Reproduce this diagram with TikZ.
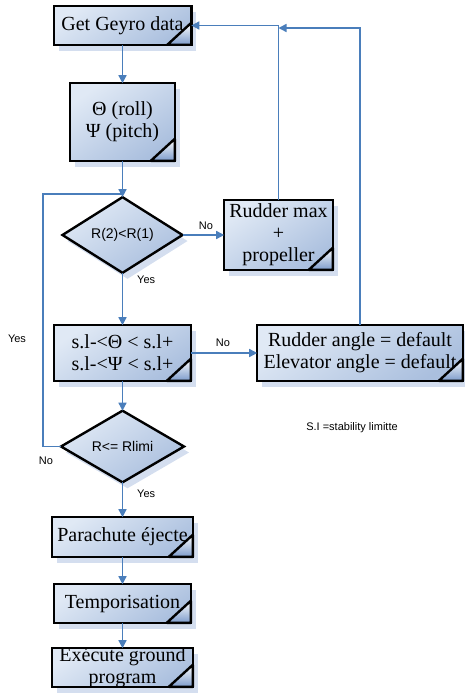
\documentclass[tikz,border=0pt]{standalone}
\usepackage{fontspec}
\setmainfont{Liberation Serif}
\newfontfamily\arialf{Liberation Sans}
\usetikzlibrary{shapes.geometric,arrows.meta,shadows}
\definecolor{lineblue}{HTML}{4A7EBB}
\definecolor{fillA}{HTML}{E0E9F5}
\definecolor{fillB}{HTML}{AABFDE}
\definecolor{shadowc}{HTML}{C9D6EB}
\definecolor{foldc}{HTML}{7C9BCB}
\newcommand\foldcorner[1]{%
  \fill[top color=white, bottom color=foldc]
    ([xshift=-24pt]#1.south east) -- (#1.south east) -- ([yshift=22pt]#1.south east) -- cycle;
  \draw[line width=2.4pt, line join=round]
    ([xshift=-24pt]#1.south east) -- (#1.south east) -- ([yshift=22pt]#1.south east) -- cycle;}
\tikzset{
  box/.style={rectangle, draw=black, line width=2.4pt, inner sep=0pt, outer sep=0pt,
    top color=fillA, bottom color=fillB, shading angle=35,
    drop shadow={shadow xshift=5pt, shadow yshift=-6pt, fill=shadowc, opacity=0.8},
    font=\fontsize{20}{22}\selectfont, align=center},
  dia/.style={diamond, draw=black, line width=2.4pt, inner sep=0pt, outer sep=0pt,
    top color=fillA, bottom color=fillB, shading angle=35,
    drop shadow={shadow xshift=5pt, shadow yshift=-6pt, fill=shadowc, opacity=0.8},
    font=\arialf\fontsize{14}{16}\selectfont},
  conn/.style={draw=lineblue, line width=1.5pt, -{Triangle[length=8pt,width=8pt]}},
  plain/.style={draw=lineblue, line width=1.5pt},
  lbl/.style={font=\arialf\fontsize{11}{13}\selectfont, inner sep=0pt}
}
\begin{document}
\begin{tikzpicture}[x=1pt,y=-1pt]
\useasboundingbox (0,0) rectangle (465,693);
% boxes
\node[box, minimum width=137.6pt, minimum height=38.6pt] (geyro) at (122.5,25.5) {Get Geyro data};
\node[box, minimum width=104.6pt, minimum height=77.6pt] (theta) at (122.5,122) {Θ (roll)\\Ψ (pitch)};
\node[dia, minimum width=120pt, minimum height=53pt] (d1) at (122.5,235) {R(2)<R(1)};
\node[box, minimum width=108.6pt, minimum height=69.6pt] (rmax) at (278.5,235) {Rudder max\\+\\propeller};
\node[box, minimum width=136.6pt, minimum height=55.6pt] (stab) at (122.5,353) {s.l-<Θ < s.l+\\s.l-<Ψ < s.l+};
\node[box, minimum width=205.6pt, minimum height=55.6pt] (rangle) at (360,353) {Rudder angle = default\\Elevator angle = default};
\node[dia, minimum width=123pt, minimum height=54pt] (d2) at (122.5,446.5) {R<= Rlimi};
\node[box, minimum width=140.6pt, minimum height=39.6pt] (para) at (122.5,537) {Parachute éjecte};
\node[box, minimum width=136.6pt, minimum height=38.6pt] (temp) at (122.5,603.5) {Temporisation};
\node[box, minimum width=140.6pt, minimum height=38.6pt,
  label={[font=\fontsize{20}{22}\selectfont, align=center, inner sep=0pt]center:Exécute ground\\program}] (exec) at (122.5,667.5) {};
\foreach \n in {geyro,theta,rmax,stab,rangle,para,temp,exec} {\foldcorner{\n}}
% helper coordinates
\coordinate (j1) at (122.5,194);
\coordinate (lp1) at (43,446.5);
\coordinate (lp2) at (43,194);
\coordinate (t2) at (360,28);
% connectors
\draw[conn] (geyro) -- (theta);
\draw[conn] (theta) -- (d1);
\draw[plain] (d2.west) -- (lp1) -- (lp2) -- (j1);
\draw[conn] (d1) -- (rmax);
\draw[conn] (rmax.north) |- (geyro.east);
\draw[conn] (rangle.north) -- (t2) -- (rmax.north |- t2);
\draw[conn] (d1) -- (stab);
\draw[conn] (stab) -- (rangle);
\draw[conn] (stab) -- (d2);
\draw[conn] (d2) -- (para);
\draw[conn] (para) -- (temp);
\draw[conn] (temp) -- (exec);
% labels
\node[lbl] (lno1) at (206,226) {No};
\node[lbl, anchor=west] (lyes1) at (137,280) {Yes};
\node[lbl] (lno2) at (223,343) {No};
\node[lbl] (lyes2) at (17,339) {Yes};
\node[lbl] (lno3) at (46,461) {No};
\node[lbl, anchor=west] (lyes3) at (137,494) {Yes};
\node[lbl] (note) at (352,428) {S.I =stability limitte};
\end{tikzpicture}
\end{document}
